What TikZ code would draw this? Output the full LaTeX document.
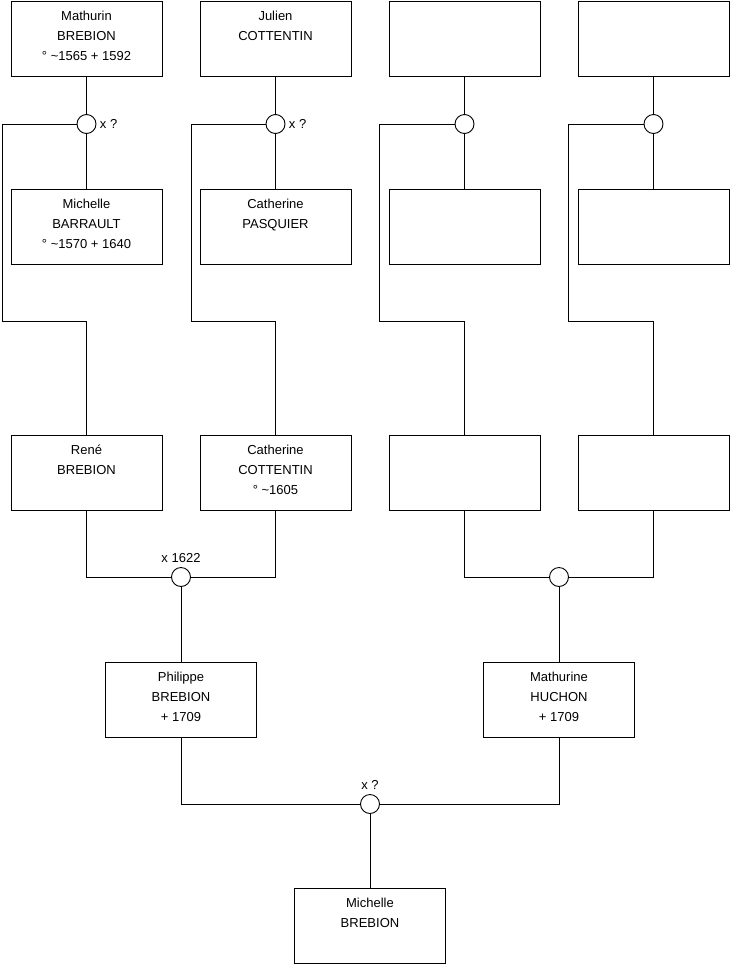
\documentclass[tikz,border=0pt]{standalone}
\usepackage{fontspec}
\setmainfont{Liberation Sans}
\usepackage{tikz}
\usetikzlibrary{positioning}

% contenu d'une fiche : texte en haut de la case
\newcommand{\fiche}[1]{\parbox[c][75pt][t]{151pt}{\centering\rule{0pt}{19pt}#1}}

\begin{document}
\begin{tikzpicture}[
  x=1pt, y=-1pt,
  line width=0.9pt,
  every node/.style={font=\fontsize{13}{20}\selectfont},
  person/.style={draw, inner sep=0pt, minimum width=151pt, minimum height=75pt},
  union/.style={draw, circle, fill=white, inner sep=0pt, minimum size=19pt},
  lbl/.style={inner sep=0pt}
]
  \useasboundingbox (0,0) rectangle (740,975);

  % Ascendants (rangee du haut)
  \node[person] (mathurinB) at (86.5,38.5) {\fiche{Mathurin\\BREBION\\° \textasciitilde1565 + 1592}};
  \node[person] (julienC) at (275.5,38.5) {\fiche{Julien\\COTTENTIN}};
  \node[person] (inc1) at (464.5,38.5) {\fiche{}};
  \node[person] (inc2) at (653.5,38.5) {\fiche{}};

  % Epouses
  \node[person] (michelleBa) at (86.5,227) {\fiche{Michelle\\BARRAULT\\° \textasciitilde1570 + 1640}};
  \node[person] (catherineP) at (275.5,227) {\fiche{Catherine\\PASQUIER}};
  \node[person] (inc3) at (464.5,227) {\fiche{}};
  \node[person] (inc4) at (653.5,227) {\fiche{}};

  % Enfants
  \node[person] (rene) at (86.5,473) {\fiche{René\\BREBION}};
  \node[person] (catherineC) at (275.5,473) {\fiche{Catherine\\COTTENTIN\\° \textasciitilde1605}};
  \node[person] (inc5) at (464.5,473) {\fiche{}};
  \node[person] (inc6) at (653.5,473) {\fiche{}};

  \node[person] (philippe) at (181,699.5) {\fiche{Philippe\\BREBION\\+ 1709}};
  \node[person] (mathurine) at (559,699.5) {\fiche{Mathurine\\HUCHON\\+ 1709}};
  \node[person] (michelle) at (370,926) {\fiche{Michelle\\BREBION}};

  % Unions
  \node[union] (ux1) at (86.5,124) {};
  \node[union] (ux2) at (275.5,124) {};
  \node[union] (ux3) at (464.5,124) {};
  \node[union] (ux4) at (653.5,124) {};
  \node[union] (m1) at (181,577) {};
  \node[union] (m2) at (559,577) {};
  \node[union] (m3) at (370,804) {};

  \node[lbl, right=3pt of ux1] (lx1) {x ?};
  \node[lbl, right=3pt of ux2] (lx2) {x ?};
  \node[lbl, above=4pt of m1] (lm1) {x 1622};
  \node[lbl, above=4pt of m3] (lm3) {x ?};

  % points de retour a gauche
  \coordinate (b1) at (2,321);
  \coordinate (b2) at (191,321);
  \coordinate (b3) at (379.5,321);
  \coordinate (b4) at (568.5,321);

  % Couples du haut
  \foreach \p/\u/\e in {mathurinB/ux1/michelleBa, julienC/ux2/catherineP, inc1/ux3/inc3, inc2/ux4/inc4}{
    \draw (\p) -- (\u);
    \draw (\u) -- (\e);
  }

  % Descendance
  \draw (ux1.west) -| (b1) -| (rene.north);
  \draw (ux2.west) -| (b2) -| (catherineC.north);
  \draw (ux3.west) -| (b3) -| (inc5.north);
  \draw (ux4.west) -| (b4) -| (inc6.north);

  \draw (rene.south) |- (m1.west);
  \draw (catherineC.south) |- (m1.east);
  \draw (inc5.south) |- (m2.west);
  \draw (inc6.south) |- (m2.east);
  \draw (m1) -- (philippe);
  \draw (m2) -- (mathurine);

  \draw (philippe.south) |- (m3.west);
  \draw (mathurine.south) |- (m3.east);
  \draw (m3) -- (michelle);

\end{tikzpicture}
\end{document}
